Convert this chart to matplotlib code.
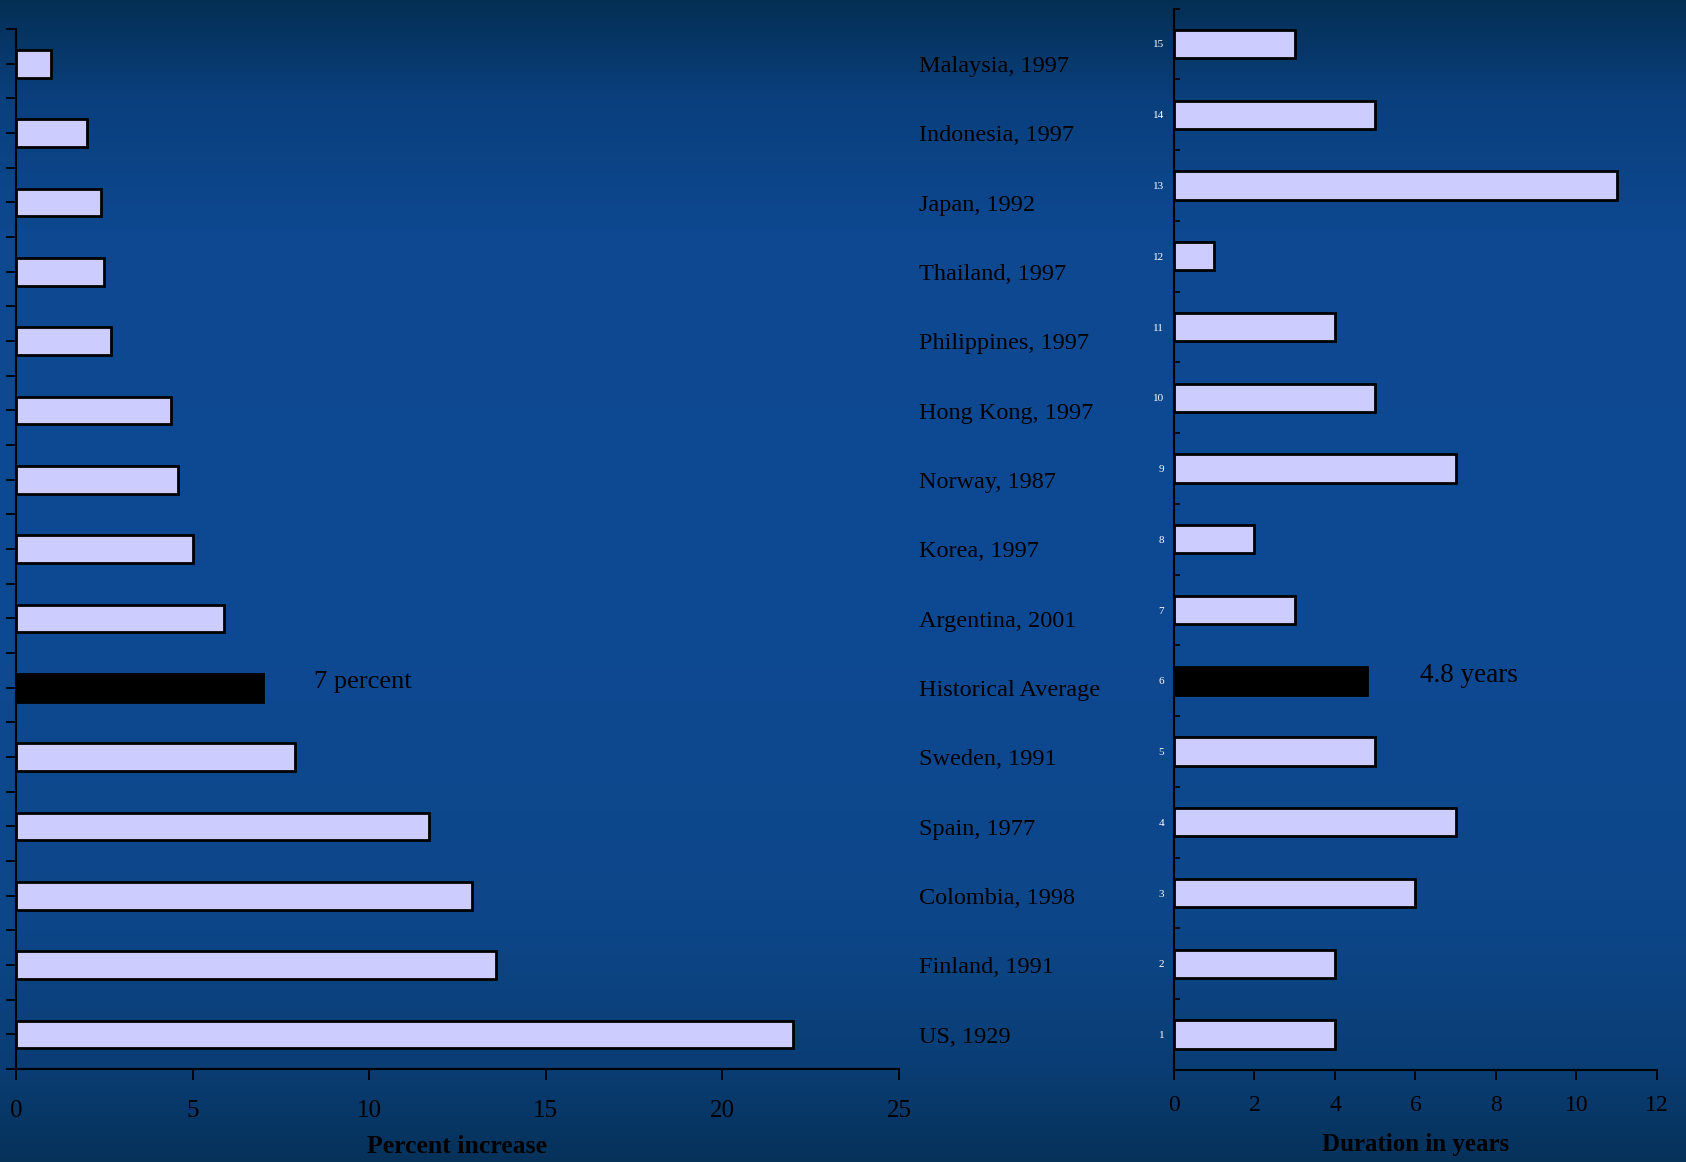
import numpy as np
import matplotlib.pyplot as plt
from matplotlib.colors import LinearSegmentedColormap

plt.rcParams['font.family'] = ['Liberation Serif', 'DejaVu Serif']

# crises, bottom to top
crises = ["US, 1929", "Finland, 1991", "Colombia, 1998", "Spain, 1977",
          "Sweden, 1991", "Historical Average", "Argentina, 2001", "Korea, 1997",
          "Norway, 1987", "Hong Kong, 1997", "Philippines, 1997", "Thailand, 1997",
          "Japan, 1992", "Indonesia, 1997", "Malaysia, 1997"]
unemployment_rise = [22, 13.6, 12.9, 11.7, 7.9, 7.0, 5.9, 5.0, 4.6, 4.4, 2.7, 2.5, 2.4, 2.0, 1.0]
duration_years = [4, 4, 6, 7, 5, 4.8, 3, 2, 7, 5, 4, 1, 11, 5, 3]
avg_label_left = "7 percent"
avg_label_right = "4.8 years"

pos = np.arange(1, len(crises) + 1)
avg_idx = crises.index("Historical Average")
fill = ["#000000" if i == avg_idx else "#ccccff" for i in range(len(crises))]

fig = plt.figure(figsize=(16.86, 11.62), dpi=100)

# slide background
bg = fig.add_axes([0, 0, 1, 1])
bg_cmap = LinearSegmentedColormap.from_list("slide", [
    (0.0, "#042f55"), (0.08, "#0a3f7c"), (0.2, "#0d4890"), (0.5, "#0e4a94"),
    (0.8, "#0d4688"), (0.92, "#0a3d74"), (1.0, "#06325a")])
grad = np.linspace(0, 1, 256).reshape(-1, 1)
bg.imshow(grad, aspect="auto", cmap=bg_cmap, extent=[0, 1, 1, 0])
bg.set_axis_off()

# left panel: percent increase in unemployment
ax1 = fig.add_axes([0.0095, 0.080, 0.5237, 0.895])
ax1.patch.set_alpha(0)
ax1.barh(pos, unemployment_rise, height=0.4, color=fill, edgecolor="black", linewidth=2)
ax1.set_xlim(0, 25)
ax1.set_ylim(0.5, 15.5)
ax1.set_xticks(np.arange(0, 26, 5))
ax1.set_yticks(np.arange(0.5, 15.6, 1))
ax1.set_yticks(pos, minor=True)
ax1.set_yticklabels([])
ax1.tick_params(axis="y", which="both", direction="out", length=7, width=1.3, color="black")
ax1.tick_params(axis="x", direction="out", length=8, width=1.3, color="black",
                labelsize=18, labelcolor="black", pad=14)
for s in ["top", "right"]:
    ax1.spines[s].set_visible(False)
for s in ["left", "bottom"]:
    ax1.spines[s].set_linewidth(1.5)
ax1.set_xlabel("Percent increase", fontsize=18.5, fontweight="bold", labelpad=10)
for y, name in zip(pos, crises):
    ax1.text(25.57, y - 0.04, name, fontsize=17.5, color="black", ha="left", va="center", clip_on=False)
ax1.text(8.44, avg_idx + 1 + 0.08, avg_label_left, fontsize=19, color="black", ha="left", va="center")

# right panel: duration
ax2 = fig.add_axes([0.6963, 0.0792, 0.2865, 0.9134])
ax2.patch.set_alpha(0)
ax2.barh(pos, duration_years, height=0.4, color=fill, edgecolor="black", linewidth=2)
ax2.set_xlim(0, 12)
ax2.set_ylim(0.5, 15.5)
ax2.set_xticks(np.arange(0, 13, 2))
ax2.set_yticks(np.arange(0.5, 15.6, 1))
ax2.set_yticklabels([])
ax2.set_yticks(pos, minor=True)
ax2.set_yticklabels([str(p) for p in pos], minor=True)
ax2.tick_params(axis="y", which="major", direction="in", length=4, width=1.2, color="black")
ax2.tick_params(axis="y", which="minor", length=0, labelsize=8, labelcolor="white", pad=7)
ax2.tick_params(axis="x", direction="out", length=7, width=1.3, color="black",
                labelsize=17, labelcolor="black", pad=11)
for s in ["top", "right"]:
    ax2.spines[s].set_visible(False)
for s in ["left", "bottom"]:
    ax2.spines[s].set_linewidth(1.5)
ax2.set_xlabel("Duration in years", fontsize=18, fontweight="bold", labelpad=12)
ax2.text(6.11, avg_idx + 1 + 0.08, avg_label_right, fontsize=19.5, color="black", ha="left", va="center")

fig.savefig("out.png", dpi=100)
